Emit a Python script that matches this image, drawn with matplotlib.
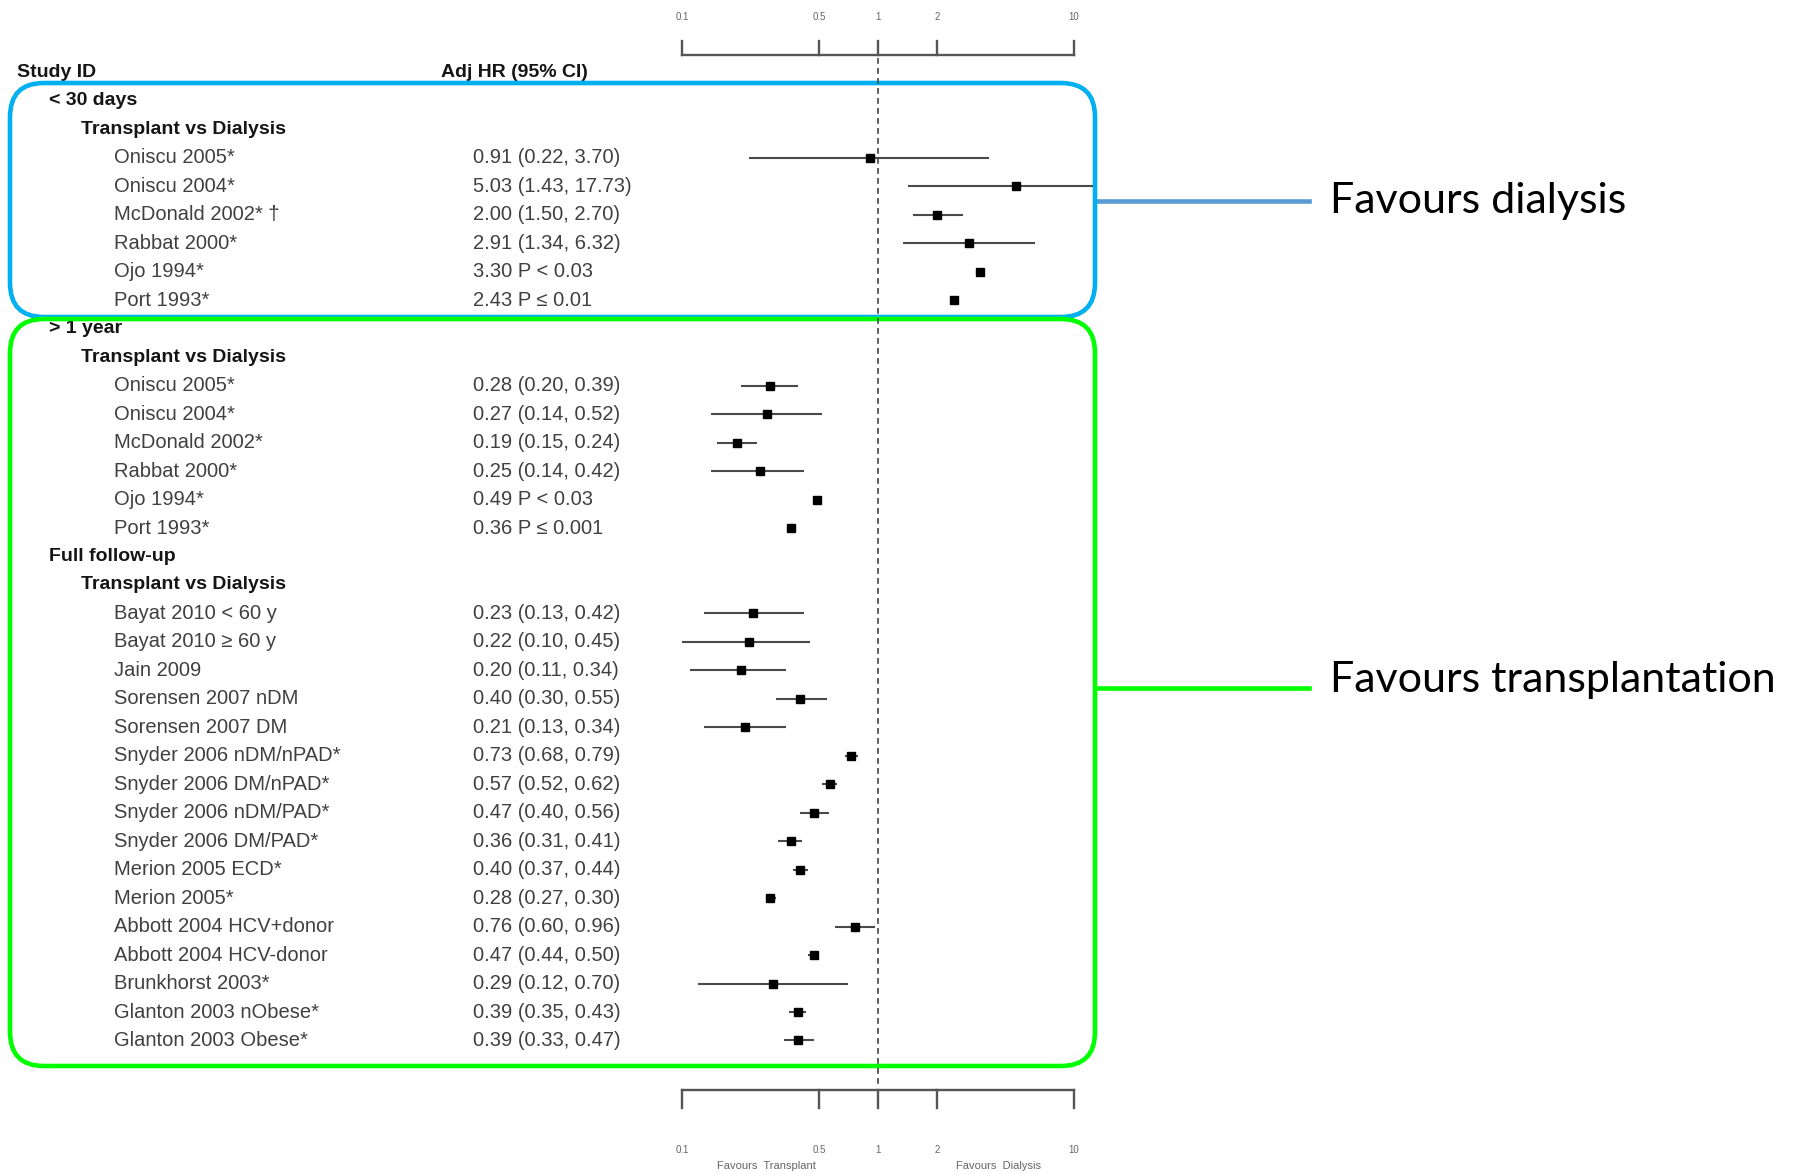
import numpy as np
import matplotlib
matplotlib.use("Agg")
import matplotlib.pyplot as plt
from matplotlib.patches import FancyBboxPatch

# ---- data ----
periods = ["< 30 days", "> 1 year", "Full follow-up"]
comparison = "Transplant vs Dialysis"

labels_30d = ["Oniscu 2005*", "Oniscu 2004*", "McDonald 2002* \u2020", "Rabbat 2000*",
              "Ojo 1994*", "Port 1993*"]
hr_30d = [0.91, 5.03, 2.00, 2.91, 3.30, 2.43]
lo_30d = [0.22, 1.43, 1.50, 1.34, None, None]
hi_30d = [3.70, 17.73, 2.70, 6.32, None, None]
p_30d = [None, None, None, None, "P < 0.03", "P \u2264 0.01"]

labels_1y = ["Oniscu 2005*", "Oniscu 2004*", "McDonald 2002*", "Rabbat 2000*",
             "Ojo 1994*", "Port 1993*"]
hr_1y = [0.28, 0.27, 0.19, 0.25, 0.49, 0.36]
lo_1y = [0.20, 0.14, 0.15, 0.14, None, None]
hi_1y = [0.39, 0.52, 0.24, 0.42, None, None]
p_1y = [None, None, None, None, "P < 0.03", "P \u2264 0.001"]

labels_full = ["Bayat 2010 < 60 y", "Bayat 2010 \u2265 60 y", "Jain 2009",
               "Sorensen 2007 nDM", "Sorensen 2007 DM", "Snyder 2006 nDM/nPAD*",
               "Snyder 2006 DM/nPAD*", "Snyder 2006 nDM/PAD*", "Snyder 2006 DM/PAD*",
               "Merion 2005 ECD*", "Merion 2005*", "Abbott 2004 HCV+donor",
               "Abbott 2004 HCV-donor", "Brunkhorst 2003*", "Glanton 2003 nObese*",
               "Glanton 2003 Obese*"]
hr_full = [0.23, 0.22, 0.20, 0.40, 0.21, 0.73, 0.57, 0.47, 0.36, 0.40, 0.28,
           0.76, 0.47, 0.29, 0.39, 0.39]
lo_full = [0.13, 0.10, 0.11, 0.30, 0.13, 0.68, 0.52, 0.40, 0.31, 0.37, 0.27,
           0.60, 0.44, 0.12, 0.35, 0.33]
hi_full = [0.42, 0.45, 0.34, 0.55, 0.34, 0.79, 0.62, 0.56, 0.41, 0.44, 0.30,
           0.96, 0.50, 0.70, 0.43, 0.47]
p_full = [None] * len(labels_full)

axis_ticks = [0.1, 0.5, 1, 2, 10]
tick_labels = ["0.1", "0.5", "1", "2", "10"]

# ---- layout (pixels) ----
W, H = 1793, 1174
ROW0, ROWH = 72.5, 28.47
X1, DEC = 878, 196          # pixel of HR=1, pixels per decade
FX0, FX1 = 590, 1093        # forest panel horizontal extent

plt.rcParams['font.family'] = ['Liberation Sans', 'DejaVu Sans']

fig = plt.figure(figsize=(W / 100, H / 100), dpi=100)
ax = fig.add_axes([0, 0, 1, 1])
ax.set_xlim(0, W)
ax.set_ylim(H, 0)
ax.axis("off")

fx = fig.add_axes([FX0 / W, 0, (FX1 - FX0) / W, 1])
fx.set_xscale("log")
fx.set_xlim(10 ** ((FX0 - X1) / DEC), 10 ** ((FX1 - X1) / DEC))
fx.set_ylim(H, 0)
fx.axis("off")
fx.patch.set_alpha(0)


def row_y(i):
    return ROW0 + ROWH * i


txt_col = "#404040"
hdr_col = "#151515"
ax.text(17, row_y(0), "Study ID", fontsize=14, fontweight="bold", va="center", color=hdr_col)
ax.text(441, row_y(0), "Adj HR (95% CI)", fontsize=14, fontweight="bold", va="center", color=hdr_col)

groups = [
    (labels_30d, hr_30d, lo_30d, hi_30d, p_30d),
    (labels_1y, hr_1y, lo_1y, hi_1y, p_1y),
    (labels_full, hr_full, lo_full, hi_full, p_full),
]

row = 1
for period, (labs, hrs, los, his, ps) in zip(periods, groups):
    ax.text(49, row_y(row), period, fontsize=14, fontweight="bold", va="center", color=hdr_col)
    row += 1
    ax.text(81, row_y(row), comparison, fontsize=14, fontweight="bold", va="center", color=hdr_col)
    row += 1
    for lab, h, lo, hi, p in zip(labs, hrs, los, his, ps):
        y = row_y(row)
        ax.text(114, y, lab, fontsize=14.5, va="center", color=txt_col)
        if p is None:
            s = f"{h:.2f} ({lo:.2f}, {hi:.2f})"
            fx.plot([lo, hi], [y, y], color="#4a4a4a", lw=1.5, solid_capstyle="butt")
        else:
            s = f"{h:.2f} {p}"
        ax.text(473, y, s, fontsize=14.5, va="center", color=txt_col)
        fx.plot([h], [y], marker="s", markersize=6.4, color="black", linestyle="none")
        row += 1

# reference line at HR = 1
fx.plot([1, 1], [58, 1088], color="#444444", lw=1.2, linestyle=(0, (3.5, 2.5)), clip_on=False)

# top and bottom scales
top_y, bot_y = 55, 1090
fx.plot([0.1, 10], [top_y, top_y], color="#555555", lw=1.7, clip_on=False)
fx.plot([0.1, 10], [bot_y, bot_y], color="#555555", lw=1.7, clip_on=False)
for t, tl in zip(axis_ticks, tick_labels):
    fx.plot([t, t], [top_y, 41], color="#555555", lw=1.7, clip_on=False)
    fx.plot([t, t], [bot_y, 1108], color="#555555", lw=1.7, clip_on=False)
    fx.text(t, 17, tl, fontsize=7, ha="center", va="center", color="#666666", clip_on=False)
    fx.text(t, 1150, tl, fontsize=7, ha="center", va="center", color="#666666", clip_on=False)
fx.text(0.27, 1166, "Favours  Transplant", fontsize=8, ha="center", va="center", color="#666666")
fx.text(4.1, 1166, "Favours  Dialysis", fontsize=8, ha="center", va="center", color="#666666")

# highlight boxes
blue, green, blue_line = "#00B0F0", "#00FF00", "#5B9BD5"
ax.add_patch(FancyBboxPatch((10, 83), 1085, 234, boxstyle="round,pad=0,rounding_size=34",
                            fill=False, edgecolor=blue, lw=3.3, zorder=5))
ax.add_patch(FancyBboxPatch((10, 319), 1085, 747, boxstyle="round,pad=0,rounding_size=34",
                            fill=False, edgecolor=green, lw=3.3, zorder=5))
ax.plot([1097, 1309], [201, 201], color=blue_line, lw=3.3)
ax.plot([1097, 1309], [688, 688], color=green, lw=3.3)
ax.text(1330, 201, "Favours dialysis", fontsize=31, family=["Lato", "DejaVu Sans"],
        va="center", ha="left", color="black")
ax.text(1330, 680, "Favours transplantation", fontsize=31, family=["Lato", "DejaVu Sans"],
        va="center", ha="left", color="black")

fig.savefig("out.png", dpi=100)
